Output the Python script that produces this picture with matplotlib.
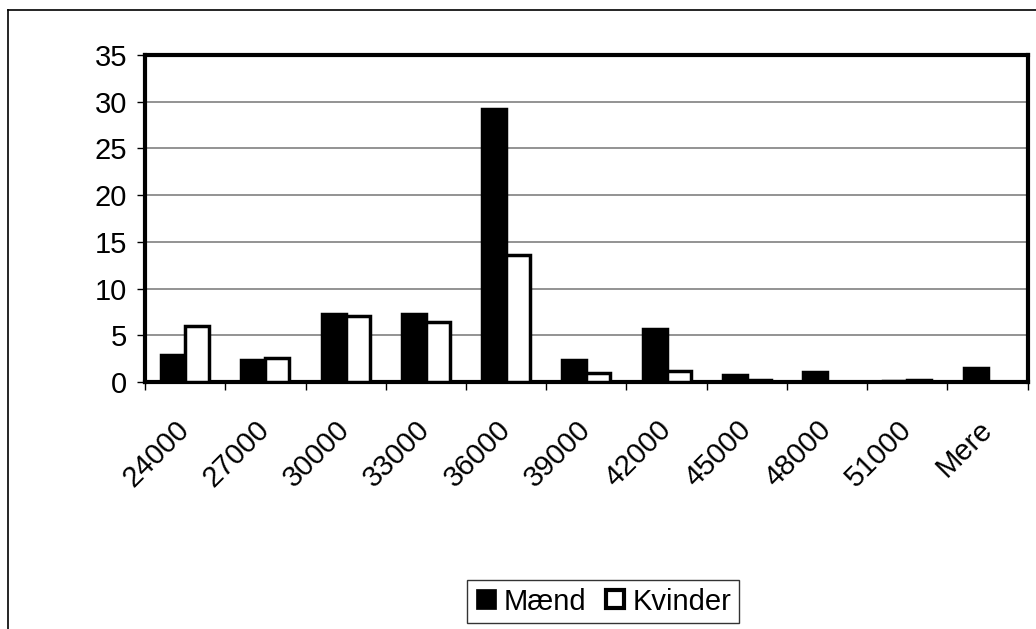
import numpy as np
from matplotlib import pyplot as plt
from matplotlib.lines import Line2D

plt.rcParams['font.family'] = ['Liberation Sans', 'DejaVu Sans']

# Data
categories = ["24000", "27000", "30000", "33000", "36000", "39000",
              "42000", "45000", "48000", "51000", "Mere"]
maend = [2.9, 2.3, 7.25, 7.25, 29.2, 2.4, 5.7, 0.8, 1.05, 0.1, 1.5]
kvinder = [6.0, 2.6, 7.1, 6.4, 13.6, 0.95, 1.15, 0.25, 0.0, 0.2, 0.0]

fig = plt.figure(figsize=(10.36, 6.29), dpi=100)
ax = fig.add_axes([0.140, 0.3927, 0.852, 0.52])

x = np.arange(len(categories))
w = 0.3
ax.bar(x - w / 2, maend, width=w, color='black', edgecolor='black',
       linewidth=2.5, zorder=3, label='Mænd')
ax.bar(x + w / 2, kvinder, width=w, color='white', edgecolor='black',
       linewidth=2.5, zorder=3, label='Kvinder')

ax.set_xlim(-0.5, len(categories) - 0.5)
ax.set_ylim(0, 35)
ax.set_yticks(np.arange(0, 36, 5))
ax.yaxis.grid(True, color='#808080', linewidth=1.2, zorder=0)
ax.set_axisbelow(True)

# labels at category centres, tick marks at category boundaries
ax.set_xticks(x)
ax.set_xticklabels(categories, rotation=45, ha='right', va='center',
                   rotation_mode='anchor')
ax.tick_params(axis='x', which='major', length=0, pad=31, labelsize=21)
ax.set_xticks(np.arange(-0.5, len(categories)), minor=True)
ax.tick_params(axis='x', which='minor', length=6, width=1, direction='out')
ax.tick_params(axis='y', length=6, width=1, direction='out', labelsize=21, pad=7)

for s in ax.spines.values():
    s.set_linewidth(3)
    s.set_color('black')

handles = [
    Line2D([], [], marker='s', linestyle='none', markersize=15,
           markerfacecolor='black', markeredgecolor='black', markeredgewidth=0.5),
    Line2D([], [], marker='s', linestyle='none', markersize=13,
           markerfacecolor='white', markeredgecolor='black', markeredgewidth=3),
]
leg = fig.legend(handles, ['Mænd', 'Kvinder'], loc='center',
                 bbox_to_anchor=(0.582, 0.0437), ncol=2, fontsize=21,
                 frameon=True, fancybox=False, shadow=False,
                 handlelength=0.8, handletextpad=0.2, columnspacing=0.6,
                 borderpad=0.25, borderaxespad=0)
leg.get_frame().set_edgecolor('black')
leg.get_frame().set_linewidth(1)

# outer chart frame (only left and top edges visible in the picture)
fig.add_artist(Line2D([8 / 1036, 8 / 1036], [0, 1 - 10 / 629],
                      transform=fig.transFigure, color='black', linewidth=1.2))
fig.add_artist(Line2D([8 / 1036, 1], [1 - 10 / 629, 1 - 10 / 629],
                      transform=fig.transFigure, color='black', linewidth=1.2))

plt.savefig('out.png', dpi=100)
